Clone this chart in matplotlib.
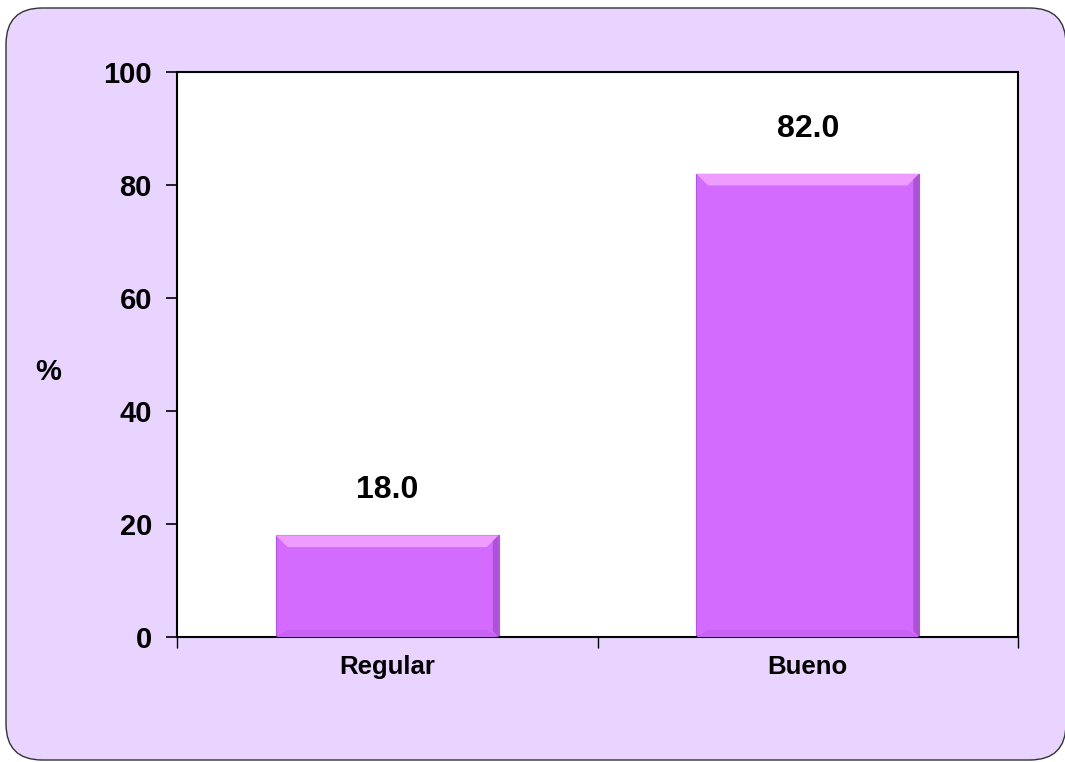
import matplotlib.pyplot as plt
from matplotlib.patches import FancyBboxPatch, Polygon

categorias = ["Regular", "Bueno"]
porcentajes = [18.0, 82.0]
yticks = [0, 20, 40, 60, 80, 100]

plt.rcParams['font.family'] = ['Liberation Sans', 'DejaVu Sans']

fig = plt.figure(figsize=(10.65, 7.62), dpi=100)
fig.patch.set_facecolor("white")

# fondo redondeado detras del grafico
fondo = FancyBboxPatch((6/1065, 2/762), 1060/1065, 752/762,
                       boxstyle="round,pad=0,rounding_size=0.034",
                       transform=fig.transFigure, facecolor="#E8D4FE",
                       edgecolor="#333333", linewidth=1.0, zorder=-1,
                       mutation_aspect=1065/762)
fig.patches.append(fondo)

ax = fig.add_axes([177/1065, 1 - 637/762, 841/1065, 565/762])
ax.set_facecolor("white")

x = range(len(categorias))
ancho = 0.53
barras = ax.bar(x, porcentajes, width=ancho, color="#D46BFF",
                edgecolor="#B055DD", linewidth=0.8, zorder=2)

# efecto biselado sobre cada barra
for b in barras:
    x0, x1 = b.get_x(), b.get_x() + b.get_width()
    h = b.get_height()
    dx = 0.028
    dy = 100 * dx * (841 / 2) / 565
    ax.add_patch(Polygon([(x0, h), (x1, h), (x1 - dx, h - dy), (x0 + dx, h - dy)],
                         facecolor="#EE9CFF", edgecolor="none", zorder=3))
    ax.add_patch(Polygon([(x1, h), (x1, 0), (x1 - dx * 0.5, dy * 0.5), (x1 - dx * 0.5, h - dy * 0.5)],
                         facecolor="#AC52D6", edgecolor="none", zorder=3))
    ax.add_patch(Polygon([(x0, 0), (x1, 0), (x1 - dx, dy * 0.6), (x0 + dx, dy * 0.6)],
                         facecolor="#C862F2", edgecolor="none", zorder=3))

for xi, v in zip(x, porcentajes):
    ax.text(xi, v + 5.3, f"{v:.1f}", ha="center", va="bottom",
            fontsize=23, fontweight="bold")

ax.set_xlim(-0.5, 1.5)
ax.set_ylim(0, 100)
ax.set_yticks(yticks)
ax.set_yticklabels([str(t) for t in yticks], fontsize=21, fontweight="bold")
ax.tick_params(axis="y", length=8, width=1.2, pad=10)

ax.set_xticks([-0.5, 0.5, 1.5])
ax.set_xticklabels([])
ax.tick_params(axis="x", which="major", length=8, width=1.0)
ax.set_xticks(list(x), minor=True)
ax.set_xticklabels(categorias, minor=True, fontsize=18.5, fontweight="bold")
ax.tick_params(axis="x", which="minor", length=0, pad=13)

for s in ax.spines.values():
    s.set_linewidth(1.5)
    s.set_color("black")

fig.text(48/1065, 1 - 372/762, "%", fontsize=21, fontweight="bold",
         ha="center", va="center")

fig.savefig("out.png", dpi=100)
